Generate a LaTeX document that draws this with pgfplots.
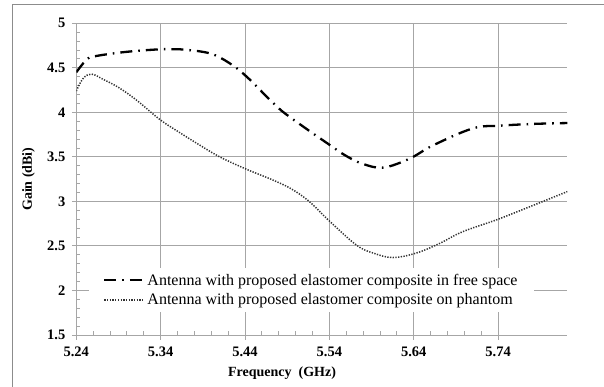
\documentclass[border=0pt]{standalone}
\usepackage{pgfplots}
\pgfplotsset{compat=1.18}
\usepackage{fontspec}
\setmainfont{Liberation Serif}

% Gain of the antenna in free space
\pgfplotstableread{
f      g
5.240  4.45
5.252  4.59
5.262  4.63
5.300  4.68
5.343  4.71
5.363  4.708
5.398  4.663
5.422  4.55
5.442  4.40
5.4695 4.14
5.483  4.02
5.509  3.84
5.541  3.63
5.560  3.51
5.580  3.42
5.604  3.38
5.635  3.48
5.663  3.63
5.710  3.82
5.742  3.85
5.781  3.87
5.822  3.88
}\freespace

% Gain of the antenna on the phantom
\pgfplotstableread{
f      g
5.240  4.24
5.248  4.38
5.258  4.43
5.272  4.37
5.290  4.28
5.311  4.14
5.339  3.92
5.363  3.77
5.385  3.64
5.410  3.50
5.442  3.36
5.473  3.24
5.495  3.14
5.516  3.00
5.540  2.78
5.572  2.51
5.592  2.42
5.615  2.37
5.643  2.42
5.671  2.53
5.698  2.66
5.740  2.80
5.780  2.95
5.822  3.11
}\phantomdata

\begin{document}
\begin{tikzpicture}[x=1pt,y=1pt]
\useasboundingbox (0,0) rectangle (604,-387);
\draw[draw=gray!90, line width=0.9pt] (12.7,-4.3) rectangle (620,-400);
\begin{axis}[
  at={(76.3pt,-335pt)}, anchor=south west,
  scale only axis, width=491pt, height=311.7pt,
  xmin=5.24, xmax=5.822, ymin=1.5, ymax=5,
  xtick={5.24,5.34,5.44,5.54,5.64,5.74},
  ytick={1.5,2,2.5,3,3.5,4,4.5,5},
  minor x tick num=4, minor y tick num=4,
  axis x line*=bottom, axis y line*=left,
  /pgf/number format/assume math mode=true,
  ticklabel style={font=\bfseries\fontsize{14.5}{16}\selectfont},
  xticklabel style={/tikz/yshift=-4pt,
    /pgf/number format/.cd,fixed,precision=2,fixed zerofill},
  yticklabel style={/tikz/xshift=-3pt,
    /pgf/number format/.cd,fixed,precision=1},
  grid=major,
  major grid style={draw=gray!70, line width=0.9pt},
  axis line style={draw=gray!70, line width=0.9pt},
  every tick/.style={draw=gray!70, line width=0.9pt},
  tick align=center,
  major tick length=9pt, minor tick length=4pt,
  every minor x tick/.append style={yshift=2pt},
  every minor y tick/.append style={xshift=2pt},
  xlabel={Frequency\ \ (GHz)},
  ylabel={Gain (dBi)},
  label style={font=\bfseries\fontsize{14}{16}\selectfont},
  xlabel style={at={(axis description cs:0.419,0)}, anchor=north, yshift=-28pt},
  ylabel style={at={(axis description cs:0,0.5)}, anchor=south, yshift=38pt},
  legend style={at={(axis cs:5.255,2.255)}, anchor=north west, fill=white, draw=none,
    font=\fontsize{16}{18}\selectfont, row sep=3pt,
    inner xsep=14pt, inner ysep=4pt,
    /tikz/every even column/.append style={column sep=3pt}},
  legend cell align=left,
  legend image code/.code={\draw[#1] (0pt,0pt) -- (40pt,0pt);},
]
\addplot[black, line width=2.3pt, smooth, tension=0.6,
  dash pattern=on 12pt off 6pt on 1.6pt off 6pt]
  table[x=f,y=g]{\freespace};
\addlegendentry{Antenna with proposed elastomer composite in free space}
\addplot[black!80, line width=1.5pt, smooth, tension=0.6,
  dash pattern=on 1.3pt off 1.4pt]
  table[x=f,y=g]{\phantomdata};
\addlegendentry{Antenna with proposed elastomer composite on phantom}
\end{axis}
\end{tikzpicture}
\end{document}
